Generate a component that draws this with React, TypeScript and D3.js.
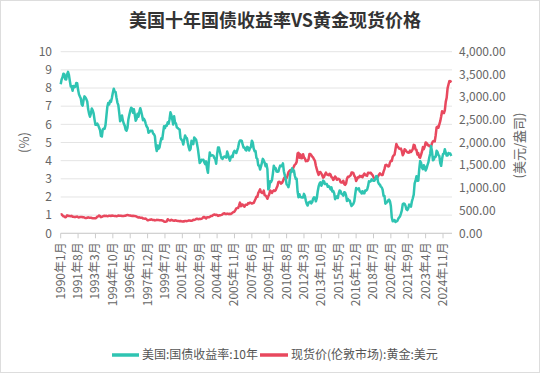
import React from "react";
import * as d3 from "d3";

const startYear = 1990;
const yieldValues: number[] = [
  8.21, 8.47, 8.59, 8.79, 8.76, 8.48, 8.47, 8.75, 8.89, 8.72, 8.39, 8.08,
  8.09, 7.85, 8.11, 8.04, 8.07, 8.28, 8.27, 7.90, 7.65, 7.53, 7.42, 7.09,
  7.03, 7.34, 7.54, 7.48, 7.39, 7.26, 6.84, 6.59, 6.42, 6.59, 6.87, 6.77,
  6.60, 6.26, 5.98, 5.97, 6.04, 5.96, 5.81, 5.68, 5.36, 5.33, 5.72, 5.77,
  5.75, 5.97, 6.48, 6.97, 7.18, 7.10, 7.30, 7.24, 7.46, 7.74, 7.96, 7.81,
  7.78, 7.47, 7.20, 7.06, 6.63, 6.17, 6.28, 6.49, 6.20, 6.04, 5.93, 5.71,
  5.65, 5.81, 6.27, 6.51, 6.74, 6.91, 6.87, 6.64, 6.83, 6.53, 6.20, 6.30,
  6.58, 6.42, 6.69, 6.89, 6.71, 6.49, 6.22, 6.30, 6.21, 6.03, 5.88, 5.81,
  5.54, 5.57, 5.65, 5.64, 5.65, 5.50, 5.46, 5.34, 4.81, 4.53, 4.83, 4.65,
  4.72, 5.00, 5.23, 5.18, 5.54, 5.90, 5.79, 5.94, 5.92, 6.11, 6.03, 6.28,
  6.66, 6.52, 6.26, 5.99, 6.44, 6.10, 6.05, 5.83, 5.80, 5.74, 5.72, 5.24,
  5.16, 5.10, 4.89, 5.14, 5.39, 5.28, 5.24, 4.97, 4.73, 4.57, 4.65, 5.09,
  5.04, 4.91, 5.28, 5.21, 5.16, 4.93, 4.65, 4.26, 3.87, 3.94, 4.05, 4.03,
  4.05, 3.90, 3.81, 3.96, 3.57, 3.33, 3.98, 4.45, 4.27, 4.29, 4.30, 4.27,
  4.15, 4.08, 3.83, 4.35, 4.72, 4.73, 4.50, 4.28, 4.13, 4.10, 4.19, 4.23,
  4.22, 4.17, 4.50, 4.34, 4.14, 4.00, 4.18, 4.26, 4.20, 4.46, 4.54, 4.47,
  4.42, 4.57, 4.72, 4.99, 5.11, 5.11, 5.09, 4.88, 4.72, 4.73, 4.60, 4.56,
  4.76, 4.72, 4.56, 4.69, 4.75, 5.10, 5.00, 4.67, 4.52, 4.53, 4.15, 4.10,
  3.74, 3.74, 3.51, 3.68, 3.88, 4.10, 4.01, 3.89, 3.69, 3.81, 3.53, 2.42,
  2.52, 2.87, 2.82, 2.93, 3.29, 3.72, 3.56, 3.59, 3.40, 3.39, 3.40, 3.59,
  3.73, 3.69, 3.73, 3.85, 3.42, 3.20, 3.01, 2.70, 2.65, 2.54, 2.76, 3.29,
  3.39, 3.58, 3.41, 3.46, 3.17, 3.00, 3.00, 2.30, 1.98, 2.15, 2.01, 1.98,
  1.97, 1.97, 2.17, 2.05, 1.80, 1.62, 1.53, 1.68, 1.72, 1.75, 1.65, 1.72,
  1.91, 1.98, 1.96, 1.76, 1.93, 2.30, 2.58, 2.74, 2.81, 2.62, 2.72, 2.90,
  2.86, 2.71, 2.72, 2.71, 2.56, 2.60, 2.54, 2.42, 2.53, 2.30, 2.33, 2.21,
  1.88, 1.98, 2.04, 1.94, 2.20, 2.36, 2.32, 2.17, 2.17, 2.07, 2.26, 2.24,
  2.09, 1.78, 1.89, 1.81, 1.81, 1.64, 1.50, 1.56, 1.63, 1.76, 2.14, 2.49,
  2.43, 2.42, 2.48, 2.30, 2.30, 2.19, 2.32, 2.21, 2.20, 2.36, 2.35, 2.40,
  2.58, 2.86, 2.84, 2.87, 2.98, 2.91, 2.89, 2.89, 3.00, 3.15, 3.12, 2.83,
  2.71, 2.68, 2.57, 2.53, 2.40, 2.07, 2.06, 1.63, 1.70, 1.71, 1.81, 1.86,
  1.76, 1.50, 0.87, 0.66, 0.67, 0.73, 0.62, 0.65, 0.68, 0.79, 0.87, 0.93,
  1.08, 1.26, 1.61, 1.64, 1.62, 1.52, 1.32, 1.28, 1.37, 1.58, 1.56, 1.47,
  1.76, 1.93, 2.13, 2.75, 2.90, 3.14, 2.90, 2.90, 3.52, 3.98, 3.89, 3.62,
  3.53, 3.75, 3.66, 3.46, 3.57, 3.75, 3.90, 4.17, 4.38, 4.80, 4.50, 4.02,
  4.06, 4.21, 4.21, 4.54, 4.48, 4.31, 4.25, 3.87, 3.72, 4.10, 4.36, 4.39,
  4.63, 4.45, 4.28, 4.28, 4.42, 4.38, 4.39, 4.26,
];

const goldValues: number[] = [
  410, 417, 393, 374, 369, 352, 362, 395, 389, 381, 381, 378,
  384, 364, 363, 358, 357, 367, 368, 356, 348, 358, 360, 361,
  354, 354, 345, 338, 337, 341, 353, 343, 345, 344, 335, 334,
  329, 329, 330, 342, 367, 372, 392, 379, 355, 364, 374, 383,
  387, 382, 384, 377, 381, 386, 385, 380, 392, 389, 384, 379,
  379, 376, 382, 391, 385, 387, 386, 383, 383, 383, 386, 387,
  400, 405, 396, 393, 392, 385, 383, 387, 383, 381, 378, 369,
  355, 347, 352, 344, 344, 341, 324, 324, 323, 325, 306, 289,
  289, 297, 296, 308, 299, 292, 293, 284, 289, 296, 294, 291,
  287, 287, 286, 282, 277, 261, 256, 257, 265, 311, 293, 283,
  284, 300, 286, 280, 275, 285, 282, 274, 273, 270, 266, 272,
  266, 262, 263, 261, 272, 270, 268, 273, 283, 283, 276, 276,
  282, 296, 294, 302, 314, 321, 313, 310, 319, 317, 319, 333,
  357, 359, 340, 328, 355, 356, 351, 360, 379, 379, 390, 407,
  414, 405, 406, 404, 383, 392, 398, 400, 406, 420, 439, 442,
  424, 423, 434, 429, 422, 430, 424, 437, 456, 470, 476, 510,
  549, 555, 557, 610, 676, 596, 633, 632, 598, 586, 628, 629,
  631, 665, 655, 679, 667, 655, 665, 665, 712, 754, 806, 803,
  889, 922, 968, 909, 888, 890, 939, 839, 829, 806, 760, 816,
  858, 943, 924, 890, 928, 946, 934, 949, 996, 1043, 1127, 1135,
  1118, 1095, 1113, 1148, 1205, 1232, 1193, 1215, 1271, 1343, 1370, 1391,
  1360, 1374, 1424, 1474, 1512, 1529, 1573, 1756, 1772, 1666, 1739, 1652,
  1656, 1743, 1675, 1649, 1589, 1596, 1594, 1630, 1745, 1747, 1721, 1688,
  1671, 1627, 1593, 1487, 1414, 1343, 1286, 1347, 1349, 1316, 1275, 1225,
  1244, 1300, 1336, 1299, 1288, 1279, 1311, 1296, 1239, 1222, 1176, 1202,
  1251, 1227, 1179, 1198, 1199, 1181, 1128, 1117, 1125, 1157, 1086, 1068,
  1097, 1199, 1246, 1242, 1260, 1276, 1337, 1341, 1326, 1267, 1236, 1152,
  1192, 1234, 1231, 1266, 1246, 1261, 1236, 1283, 1314, 1280, 1283, 1265,
  1331, 1331, 1325, 1334, 1303, 1282, 1238, 1202, 1198, 1215, 1221, 1250,
  1292, 1320, 1301, 1286, 1284, 1359, 1413, 1500, 1510, 1495, 1471, 1479,
  1560, 1597, 1592, 1683, 1715, 1732, 1847, 1969, 1922, 1900, 1866, 1858,
  1867, 1808, 1718, 1760, 1850, 1834, 1807, 1785, 1776, 1777, 1821, 1790,
  1817, 1856, 1948, 1937, 1849, 1837, 1733, 1765, 1681, 1665, 1726, 1798,
  1898, 1855, 1912, 2000, 1992, 1943, 1951, 1918, 1916, 1916, 1985, 2026,
  2033, 2024, 2160, 2331, 2350, 2326, 2398, 2470, 2571, 2690, 2651, 2648,
  2709, 2895, 2984, 3194, 3278, 3352, 3340, 3368,
];

const leftTicks = [0, 1, 2, 3, 4, 5, 6, 7, 8, 9, 10];
const rightTicks = [0, 500, 1000, 1500, 2000, 2500, 3000, 3500, 4000];
const labelInterval = 19;
const title = "美国十年国债收益率VS黄金现货价格";
const yieldName = "美国:国债收益率:10年";
const goldName = "现货价(伦敦市场):黄金:美元";

const categories = yieldValues.map((_, i) => {
  const y = startYear + Math.floor(i / 12);
  const m = (i % 12) + 1;
  return `${y}年${m}月`;
});

const W = 546;
const H = 375;
const left = 60.7;
const right = 452;
const top = 51.7;
const bottom = 233.3;
const font = "'Noto Sans CJK SC', 'Noto Sans', sans-serif";
const teal = "#2fc4b2";
const red = "#e8485e";

export default function App() {
  const x = d3.scaleLinear().domain([0, categories.length - 1]).range([left, left + (categories.length - 1) * ((443 - left) / 418)]);
  const yL = d3.scaleLinear().domain([0, 10]).range([bottom, top]);
  const yR = d3.scaleLinear().domain([0, 4000]).range([bottom, top]);
  const yieldLine = d3.line<number>().x((_, i) => x(i)).y((d) => yL(d));
  const goldLine = d3.line<number>().x((_, i) => x(i)).y((d) => yR(d));
  const tickIdx = d3.range(0, categories.length, labelInterval);
  const fmt = d3.format(",.2f");

  return (
    <svg width={W} height={H} style={{ position: "absolute", left: 0, top: 0 }} fontFamily={font}>
      <rect x={0.5} y={0.5} width={539} height={372} fill="#fff" stroke="#ddd" />
      <text x={275} y={27} textAnchor="middle" fontSize={18} fontWeight="bold" fill="#333">{title}</text>
      {leftTicks.map((t) => (
        <g key={"l" + t}>
          <line x1={left} x2={right} y1={yL(t)} y2={yL(t)} stroke="#e4e4e4" strokeWidth={1} />
          <text x={52} y={yL(t)} dy="0.35em" textAnchor="end" fontSize={12} fill="#666">{t}</text>
        </g>
      ))}
      {rightTicks.map((t) => (
        <text key={"r" + t} x={459} y={yR(t)} dy="0.35em" textAnchor="start" fontSize={12} fill="#666">{fmt(t)}</text>
      ))}
      <text transform={`translate(29,${(top + bottom) / 2}) rotate(-90)`} textAnchor="middle" fontSize={13} fill="#666">(%)</text>
      <text transform={`translate(524,${(top + bottom) / 2 + 3}) rotate(-90)`} textAnchor="middle" fontSize={13} fill="#666">(美元/盎司)</text>
      <line x1={left} x2={right} y1={bottom} y2={bottom} stroke="#ccc" />
      {tickIdx.map((i) => (
        <g key={"x" + i}>
          <line x1={x(i)} x2={x(i)} y1={bottom} y2={bottom + 5} stroke="#ccc" />
          <text transform={`translate(${x(i) + 4},${bottom + 9}) rotate(-90)`} textAnchor="end" fontSize={12} fill="#666">{categories[i]}</text>
        </g>
      ))}
      <path d={goldLine(goldValues) || ""} fill="none" stroke={red} strokeWidth={2.5} strokeLinejoin="round" />
      <path d={yieldLine(yieldValues) || ""} fill="none" stroke={teal} strokeWidth={2.5} strokeLinejoin="round" />
      <g fontSize={12} fill="#555">
        <line x1={112} x2={139} y1={355} y2={355} stroke={teal} strokeWidth={3.5} />
        <text x={142} y={355} dy="0.35em">{yieldName}</text>
        <line x1={260} x2={288} y1={355} y2={355} stroke={red} strokeWidth={3.5} />
        <text x={291} y={355} dy="0.35em">{goldName}</text>
      </g>
    </svg>
  );
}
